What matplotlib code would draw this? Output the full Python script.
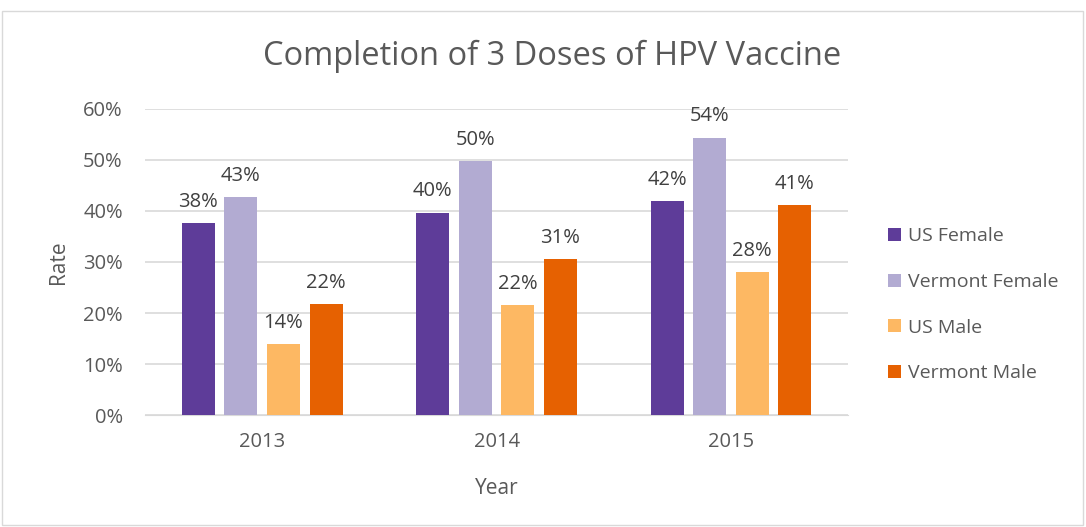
import numpy as np
import matplotlib.pyplot as plt
import matplotlib.patches as mpatches

# data
years = ['2013', '2014', '2015']
us_female = [0.376, 0.397, 0.419]
vt_female = [0.427, 0.498, 0.544]
us_male = [0.139, 0.216, 0.280]
vt_male = [0.217, 0.306, 0.411]

series = [us_female, vt_female, us_male, vt_male]
names = ['US Female', 'Vermont Female', 'US Male', 'Vermont Male']
colors = ['#5E3C99', '#B2ABD2', '#FDB863', '#E66101']

plt.rcParams['font.family'] = ['Open Sans', 'DejaVu Sans']
txt = '#595959'

fig = plt.figure(figsize=(10.86, 5.27), dpi=100)
ax = fig.add_axes([0.1335, 0.2125, 0.6475, 0.5807])

x = np.arange(len(years))
step = 0.1816
width = 0.141
for i, (vals, name, c) in enumerate(zip(series, names, colors)):
    pos = x + (i - 1.5) * step
    bars = ax.bar(pos, vals, width, color=c, label=name, zorder=3)
    for b, v in zip(bars, vals):
        ax.text(b.get_x() + b.get_width() / 2, v + 0.022, '{:.0f}%'.format(v * 100),
                ha='center', va='bottom', fontsize=14.5, color='#404040')

ax.set_xlim(-0.5, 2.5)
ax.set_ylim(0, 0.6)
ax.set_yticks(np.arange(0, 0.61, 0.1))
ax.set_yticklabels(['{:.0f}%'.format(t * 100) for t in np.arange(0, 0.61, 0.1)])
ax.set_xticks(x)
ax.set_xticklabels(years)
ax.tick_params(length=0, labelsize=14.5, colors=txt)
ax.tick_params(axis='y', pad=16)
ax.tick_params(axis='x', pad=12)
for s in ['top', 'right', 'left']:
    ax.spines[s].set_visible(False)
ax.spines['bottom'].set_color('#D9D9D9')
ax.grid(axis='y', color='#D9D9D9', linewidth=1.2, zorder=0)

ax.set_xlabel('Year', fontsize=15, color=txt, labelpad=19)
ax.set_ylabel('Rate', fontsize=15, color=txt, labelpad=10)
fig.text(0.508, 0.893, 'Completion of 3 Doses of HPV Vaccine', ha='center', va='center',
         fontsize=23.5, color=txt)

leg = ax.legend(loc='center left', bbox_to_anchor=(1.032, 0.36), frameon=False,
                fontsize=14, labelspacing=1.42, handlelength=0.65, handleheight=0.65,
                handletextpad=0.35)
for t in leg.get_texts():
    t.set_color(txt)

fig.patches.append(mpatches.Rectangle((0.002, 0.004), 0.995, 0.975, transform=fig.transFigure,
                                      fill=False, edgecolor='#D9D9D9', linewidth=1))

plt.savefig('out.png', dpi=100)
